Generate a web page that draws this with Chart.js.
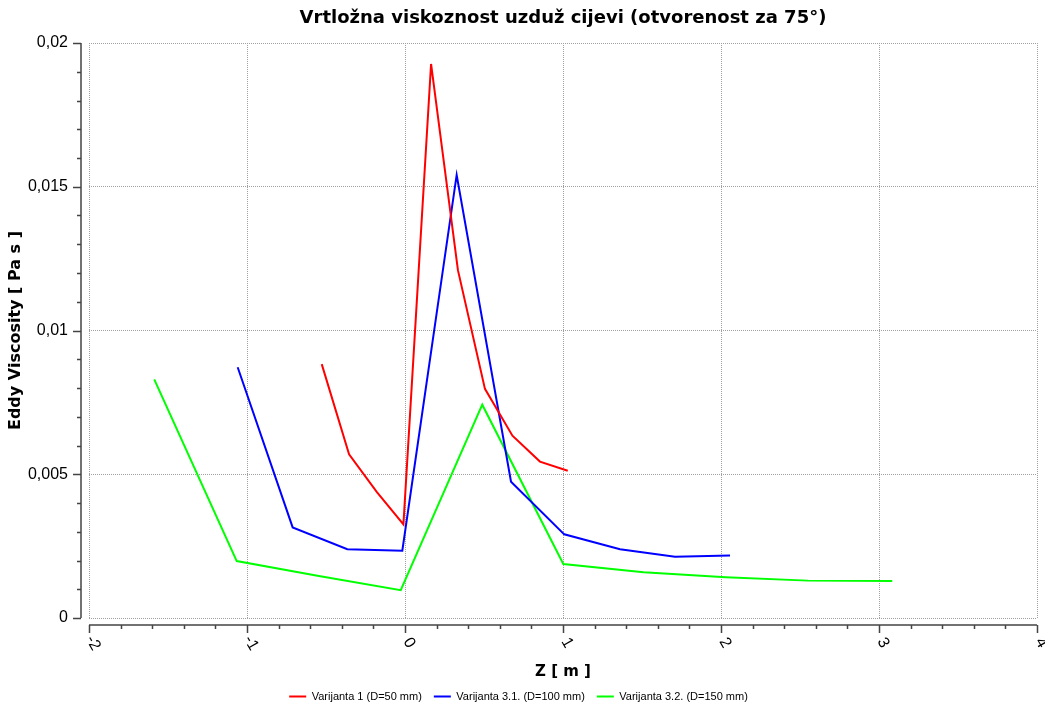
<!DOCTYPE html>
<html>
<head>
<meta charset="utf-8">
<script src="https://cdn.jsdelivr.net/npm/chart.js@4.4.0/dist/chart.umd.min.js"></script>
<style>
  html, body { margin: 0; padding: 0; background: #fff; }
  #wrap { width: 1045px; height: 707px; }
</style>
</head>
<body>
<div id="wrap"><canvas id="eddyChart" width="1045" height="707"></canvas></div>
<script>
// Z position [m] and eddy viscosity [Pa s] for each pipe variant
const zVar1 = [-0.527, -0.354, -0.179, -0.01, 0.165, 0.335, 0.506, 0.68, 0.854, 1.03];
const muVar1 = [0.00883, 0.00569, 0.00439, 0.00326, 0.01927, 0.0121, 0.00797, 0.00634, 0.00544, 0.00512];

const zVar31 = [-1.059, -0.711, -0.365, -0.017, 0.327, 0.671, 1.008, 1.361, 1.709, 2.057];
const muVar31 = [0.00872, 0.00315, 0.00239, 0.00234, 0.01541, 0.00474, 0.00291, 0.00239, 0.00213, 0.00217];

const zVar32 = [-1.587, -1.065, -0.545, -0.027, 0.489, 1.002, 1.51, 2.03, 2.55, 3.084];
const muVar32 = [0.0083, 0.00198, 0.00146, 0.00097, 0.00742, 0.00188, 0.00159, 0.00142, 0.0013, 0.00129];

const seriesNames = ["Varijanta 1 (D=50 mm)", "Varijanta 3.1. (D=100 mm)", "Varijanta 3.2. (D=150 mm)"];
const xTickLabels = ["-2", "-1", "0", "1", "2", "3", "4"];
const yTickLabels = ["0", "0,005", "0,01", "0,015", "0,02"];

const BOLD_FONT = "DejaVu Sans";
const TICK_FONT = "Liberation Sans";

function toPoints(xs, ys) {
    return xs.map((x, i) => ({ x: x, y: ys[i] }));
}

// axis lines sit a little away from the plot area, with minor ticks
const axisFrame = {
    id: "axisFrame",
    afterDraw(chart) {
        const { ctx, chartArea: a, scales } = chart;
        const xs = scales.x, ys = scales.y;
        const axX = a.left - 8;
        const axY = a.bottom + 7;
        ctx.save();
        ctx.strokeStyle = "#444";
        ctx.lineWidth = 1.5;
        ctx.beginPath();
        ctx.moveTo(axX, ys.getPixelForValue(ys.max));
        ctx.lineTo(axX, ys.getPixelForValue(ys.min));
        for (let k = 0; k <= 20; k++) {
            const py = Math.round(ys.getPixelForValue(ys.min + k * (ys.max - ys.min) / 20)) + 0.5;
            const len = k % 5 === 0 ? 8 : 4;
            ctx.moveTo(axX - len, py);
            ctx.lineTo(axX, py);
        }
        ctx.moveTo(xs.getPixelForValue(xs.min), axY);
        ctx.lineTo(xs.getPixelForValue(xs.max), axY);
        for (let k = 0; k <= 30; k++) {
            const px = Math.round(xs.getPixelForValue(xs.min + k * (xs.max - xs.min) / 30)) + 0.5;
            const len = k % 5 === 0 ? 8 : 4;
            ctx.moveTo(px, axY);
            ctx.lineTo(px, axY + len);
        }
        ctx.stroke();

        // x tick labels, turned clockwise under each major tick
        ctx.font = "16px '" + TICK_FONT + "'";
        ctx.fillStyle = "#000";
        ctx.textAlign = "center";
        ctx.textBaseline = "middle";
        xs.ticks.forEach((t, i) => {
            ctx.save();
            ctx.translate(xs.getPixelForTick(i) + 4, a.bottom + 25);
            ctx.rotate(Math.PI / 3);
            ctx.fillText(xTickLabels[i], 0, 0);
            ctx.restore();
        });
        ctx.restore();
    }
};

const ctx = document.getElementById("eddyChart").getContext("2d");
const eddyChart = new Chart(ctx, {
    type: "line",
    data: {
        datasets: [
            {
                label: seriesNames[0],
                data: toPoints(zVar1, muVar1),
                borderColor: "#ff0000",
                backgroundColor: "#ff0000",
            },
            {
                label: seriesNames[1],
                data: toPoints(zVar31, muVar31),
                borderColor: "#0000ff",
                backgroundColor: "#0000ff",
            },
            {
                label: seriesNames[2],
                data: toPoints(zVar32, muVar32),
                borderColor: "#00ff00",
                backgroundColor: "#00ff00",
            },
        ],
    },
    options: {
        responsive: false,
        animation: false,
        datasets: {
            line: {
                borderWidth: 2,
                pointRadius: 0,
                pointStyle: "line",
                tension: 0,
                fill: false,
            },
        },
        layout: {
            padding: { left: 0, right: 8, top: 0, bottom: -5 },
        },
        plugins: {
            title: {
                display: true,
                fullSize: false,
                text: "Vrtložna viskoznost uzduž cijevi (otvorenost za 75°)",
                color: "#000",
                font: { family: BOLD_FONT, size: 18, weight: "bold" },
                padding: { top: 8, bottom: 13.4 },
            },
            legend: {
                position: "bottom",
                labels: {
                    usePointStyle: true,
                    pointStyleWidth: 17,
                    color: "#000",
                    font: { family: TICK_FONT, size: 11 },
                    padding: 12,
                },
            },
            tooltip: { enabled: false },
        },
        scales: {
            x: {
                type: "linear",
                min: -2,
                max: 4,
                afterFit: (scale) => {
                    scale.height = 61;
                    scale.paddingLeft = 0;
                    scale.paddingRight = 0;
                },
                ticks: {
                    stepSize: 1,
                    display: false,
                },
                grid: { color: "#a0a0a0", drawTicks: false },
                border: { display: false, dash: [1, 1] },
                title: {
                    display: true,
                    text: "Z [ m ]",
                    color: "#000",
                    font: { family: BOLD_FONT, size: 15, weight: "bold" },
                    padding: { top: 4, bottom: -2 },
                },
            },
            y: {
                min: 0,
                max: 0.02,
                afterFit: (scale) => { scale.width = 89; },
                ticks: {
                    stepSize: 0.005,
                    padding: 21,
                    color: "#000",
                    font: { family: TICK_FONT, size: 16 },
                    callback: (v, i) => yTickLabels[i],
                },
                grid: { color: "#a0a0a0", drawTicks: false },
                border: { display: false, dash: [1, 1] },
                title: {
                    display: true,
                    text: "Eddy Viscosity [ Pa s ]",
                    color: "#000",
                    font: { family: BOLD_FONT, size: 16, weight: "bold" },
                    padding: { top: 6, bottom: 4 },
                },
            },
        },
    },
    plugins: [axisFrame],
});
</script>
</body>
</html>
